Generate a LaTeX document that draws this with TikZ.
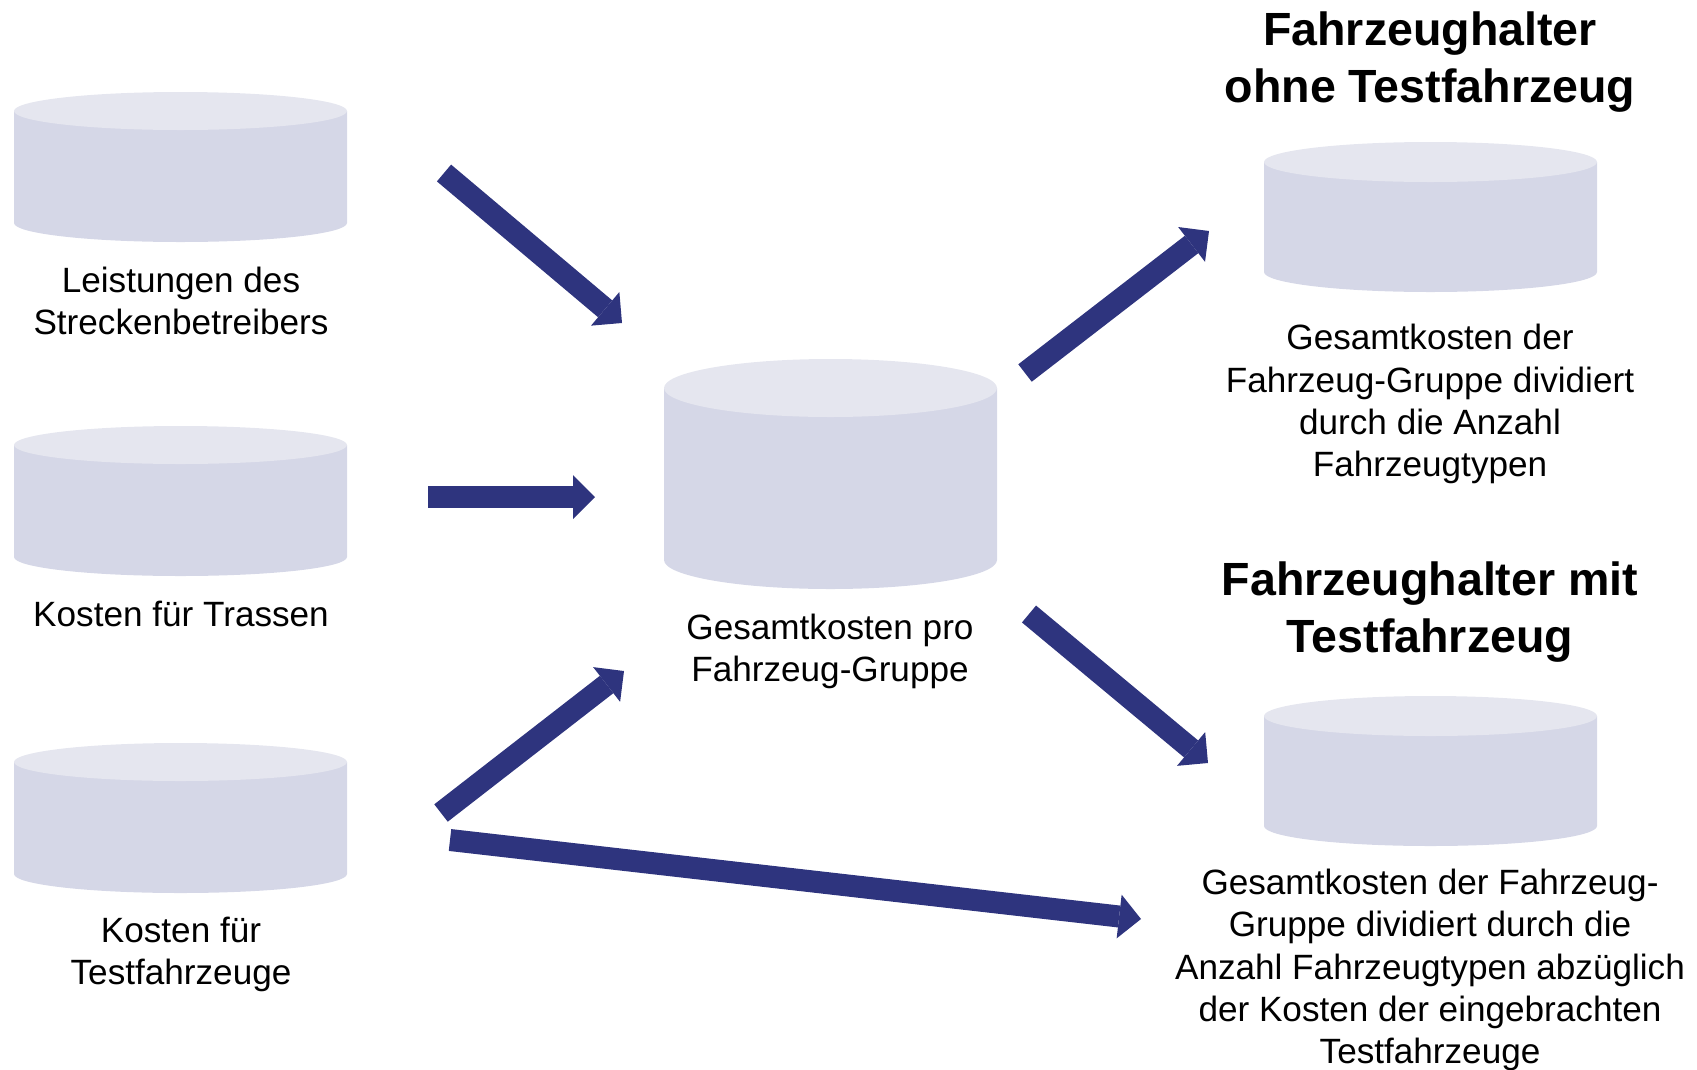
\documentclass[tikz,border=0pt]{standalone}
\usepackage{fontspec}
\setmainfont{Liberation Sans}
\usetikzlibrary{arrows.meta}
\definecolor{arrowblue}{RGB}{46,52,126}
\definecolor{drumside}{RGB}{213,215,231}
\definecolor{drumlid}{RGB}{229,230,239}
\tikzset{
caption/.style={align=center,inner sep=0pt,font=\fontsize{20}{24}\selectfont},
heading/.style={align=center,inner sep=0pt,font=\bfseries\fontsize{26.5}{32.5}\selectfont},
bigarrow/.style={-{Triangle[length=.44cm,width=.88cm,line width=0pt]},line width=.44cm,draw=arrowblue}
}
% drum: centre x, top y, bottom y, lid radius
\newcommand{\drum}[4]{%
\fill[drumside](#1-166.5,#2)--(#1-166.5,#3)arc[start angle=180,end angle=0,x radius=166.5,y radius=#4]--(#1+166.5,#2)--cycle;
\fill[drumlid](#1,#2)ellipse[x radius=166.5,y radius=#4];}
\begin{document}
\begin{tikzpicture}[x=.02cm,y=-.02cm]
\useasboundingbox (0,0) rectangle (1697,1069);
% drums
\drum{180.5}{111}{223}{19}
\drum{180.5}{445}{557}{19}
\drum{180.5}{762}{874}{19}
\drum{830.5}{388}{560}{29}
\drum{1430.5}{162}{272}{20}
\drum{1430.5}{716}{826}{20}
% texts
\node[caption] (leist) at (181,301) {Leistungen des\\Streckenbetreibers};
\node[caption] (trassen) at (181,614) {Kosten für Trassen};
\node[caption] (testfz) at (181,954) {Kosten für\\Testfahrzeuge};
\node[caption] (gesamt) at (830,651) {Gesamtkosten pro\\Fahrzeug-Gruppe};
\node[heading] (ohne) at (1430,62) {Fahrzeughalter\\ohne Testfahrzeug};
\node[caption] (ohnetxt) at (1430,404) {Gesamtkosten der\\Fahrzeug-Gruppe dividiert\\durch die Anzahl\\Fahrzeugtypen};
\node[heading] (mit) at (1430,612) {Fahrzeughalter mit\\Testfahrzeug};
\node[caption] (mittxt) at (1430,970) {Gesamtkosten der Fahrzeug-\\Gruppe dividiert durch die\\Anzahl Fahrzeugtypen abzüglich\\der Kosten der eingebrachten\\Testfahrzeuge};
% arrow ends
\coordinate (a1s) at (444,173); \coordinate (a1e) at (622,323);
\coordinate (a2s) at (428,497); \coordinate (a2e) at (595,497);
\coordinate (a3s) at (441,813); \coordinate (a3e) at (624,671);
\coordinate (a4s) at (450,840); \coordinate (a4e) at (1141,919);
\coordinate (a5s) at (1025,373); \coordinate (a5e) at (1209,231);
\coordinate (a6s) at (1029,614); \coordinate (a6e) at (1208,763);
\draw[bigarrow](a1s)--(a1e);
\draw[bigarrow](a2s)--(a2e);
\draw[bigarrow](a3s)--(a3e);
\draw[bigarrow](a4s)--(a4e);
\draw[bigarrow](a5s)--(a5e);
\draw[bigarrow](a6s)--(a6e);
\end{tikzpicture}
\end{document}
